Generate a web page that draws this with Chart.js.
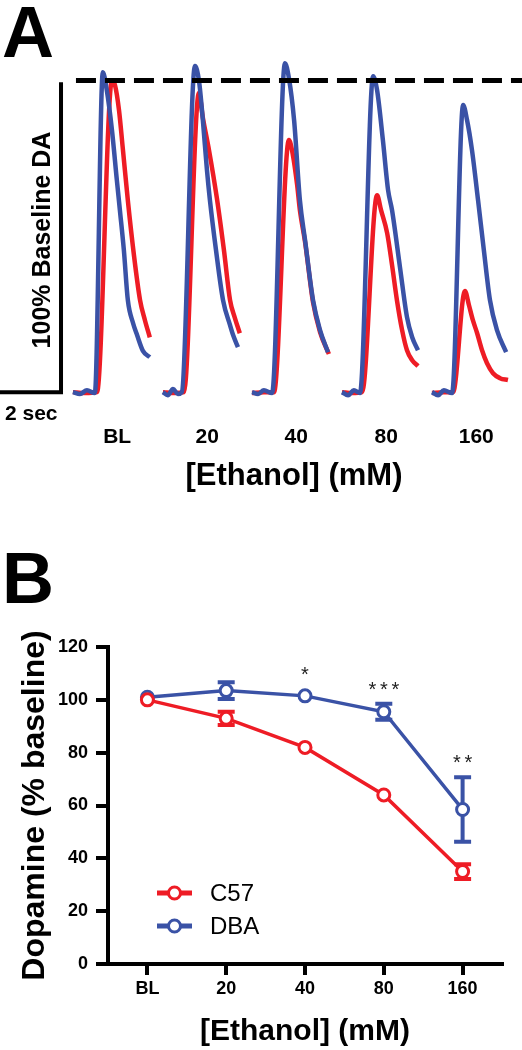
<!DOCTYPE html>
<html>
<head>
<meta charset="utf-8">
<script src="https://cdn.jsdelivr.net/npm/chart.js@4.4.0/dist/chart.umd.min.js"></script>
<style>
  body { margin: 0; background: #fff; }
  #wrap { position: relative; width: 522px; height: 1050px; }
  canvas { position: absolute; left: 0; }
  #traces { top: 0; }
  #summary { top: 500px; }
</style>
</head>
<body>
<div id="wrap">
  <canvas id="traces" width="522" height="500"></canvas>
  <canvas id="summary" width="522" height="550"></canvas>
</div>
<script>
const fam = '"Liberation Sans", Arial, sans-serif';
const RED = "#ee1c25";
const BLUE = "#3a52a6";

// ---------- Panel A: example traces, [time (s), DA (% baseline)] ----------
const traceGroups = ["BL", "20", "40", "80", "160"];
const groupStart = [2.39, 5.34, 8.26, 11.21, 14.16]; // s on the shared time axis

const dbaBL = [[0,0],[0.23,-0.6],[0.46,0.6],[0.72,-0.3],[0.98,103.2],[1.11,97.4],[1.28,84.5],[1.44,68.4],[1.54,58.7],[1.67,45.8],[1.80,29.7],[1.97,22.3],[2.10,18.5],[2.30,13.2],[2.52,11.3]];
const c57BL = [[0,0],[0.39,-0.3],[0.79,0],[1.28,100.6],[1.38,99.0],[1.51,91.0],[1.64,78.1],[1.80,61.9],[2.00,44.2],[2.20,29.7],[2.36,23.2],[2.52,17.7]];
const dba20 = [[0,0],[0.16,-1.0],[0.33,1.0],[0.49,-0.6],[0.62,0],[1.05,105.2],[1.18,100.6],[1.31,87.7],[1.44,72.0],[1.54,62.0],[1.74,45.8],[1.97,29.7],[2.20,21.6],[2.30,18.4],[2.46,14.5]];
const c5720 = [[0,0],[0.39,-0.3],[0.69,0],[1.18,96.5],[1.31,88.5],[1.51,78.1],[1.77,62.5],[2.00,45.8],[2.20,29.7],[2.36,23.9],[2.52,19.0]];
const dba40 = [[0,0],[0.20,-0.6],[0.39,0.6],[0.66,-0.3],[1.08,106.1],[1.21,101.3],[1.38,87.7],[1.57,61.9],[1.74,49.0],[2.00,29.7],[2.23,20.0],[2.49,12.9]];
const c5740 = [[0,-0.3],[0.39,0],[0.72,0],[1.21,81.3],[1.34,76.5],[1.48,66.8],[1.57,58.7],[1.74,48.4],[2.00,29.0],[2.23,19.4],[2.52,12.3]];
const dba80 = [[0,0],[0.20,-1.0],[0.39,0.6],[0.59,-0.3],[1.02,101.9],[1.15,97.4],[1.34,81.3],[1.51,65.2],[1.64,58.7],[1.90,40.3],[2.13,24.2],[2.30,17.7],[2.49,13.5]];
const c5780 = [[0,0],[0.33,-0.3],[0.66,0],[1.15,63.5],[1.28,58.7],[1.48,51.3],[1.64,41.0],[1.80,29.7],[1.97,20.0],[2.13,13.5],[2.30,10.3],[2.49,8.4]];
const dba160 = [[0,0],[0.20,-1.0],[0.39,0.6],[0.66,-0.3],[1.02,92.6],[1.15,87.7],[1.31,78.1],[1.51,61.9],[1.70,45.8],[1.90,29.7],[2.13,20.0],[2.43,12.9]];
const c57160 = [[0,-0.3],[0.36,0],[0.69,0],[1.08,32.6],[1.21,28.1],[1.34,23.2],[1.48,19.0],[1.64,13.5],[1.80,9.4],[2.00,6.1],[2.23,4.5],[2.49,3.9]];

const dbaTraces = [dbaBL, dba20, dba40, dba80, dba160];
const c57Traces = [c57BL, c5720, c5740, c5780, c57160];

// scale bar: 2 sec x 100 %, and the 100 % baseline reference
const scaleBar = [[0,0],[2,0],[2,100]];
const baselineRef = [[2.49,100.5],[17.11,100.5]];

// ---------- Panel B: summary ----------
const doses = ["BL", "20", "40", "80", "160"];
const c57Mean = [100, 93, 82, 64, 35];
const c57Sem = [0, 2.5, 0, 0, 2.8];
const dbaMean = [101, 103.5, 101.5, 95.5, 58.5];
const dbaSem = [0, 3.2, 0, 3, 12.2];
const sigMarks = ["", "", "*", "***", "**"];

// ---------- Chart A ----------
function traceSet(points, start, color, order) {
  return {
    data: points.map(p => ({ x: start + p[0], y: p[1] })),
    borderColor: color,
    borderWidth: 4.5,
    pointRadius: 0,
    fill: false,
    cubicInterpolationMode: "monotone",
    order: order
  };
}

const traceSets = [];
dbaTraces.forEach((t, i) => traceSets.push(traceSet(t, groupStart[i], BLUE, 1)));
c57Traces.forEach((t, i) => traceSets.push(traceSet(t, groupStart[i], RED, 2)));
traceSets.push({
  data: scaleBar.map(p => ({ x: p[0], y: p[1] })),
  borderColor: "#000", borderWidth: 4, pointRadius: 0, tension: 0, borderJoinStyle: "miter", order: 0
});
traceSets.push({
  data: baselineRef.map(p => ({ x: p[0], y: p[1] })),
  borderColor: "#000", borderWidth: 5, borderDash: [20, 9], pointRadius: 0, order: 0
});

const traceExtras = {
  id: "traceExtras",
  afterDraw(chart) {
    const { ctx, scales: { x } } = chart;
    ctx.save();
    ctx.fillStyle = "#000";
    ctx.textBaseline = "alphabetic";
    ctx.textAlign = "left";
    ctx.font = "bold 72px " + fam;
    ctx.fillText("A", 2, 57);
    ctx.font = "bold 21px " + fam;
    ctx.fillText("2 sec", 5, 420);
    ctx.textAlign = "center";
    traceGroups.forEach((g, i) => ctx.fillText(g, x.getPixelForValue(groupStart[i] + 1.45), 443));
    ctx.font = "bold 31px " + fam;
    ctx.fillText("[Ethanol] (mM)", 294, 485);
    ctx.translate(50, 240);
    ctx.rotate(-Math.PI / 2);
    ctx.font = "bold 25px " + fam;
    ctx.fillText("100% Baseline DA", 0, 0);
    ctx.restore();
  }
};

new Chart(document.getElementById("traces").getContext("2d"), {
  type: "line",
  data: { datasets: traceSets },
  options: {
    responsive: false,
    animation: false,
    devicePixelRatio: 1,
    layout: { padding: 0 },
    scales: {
      x: { type: "linear", min: 0, max: 17.11, display: false },
      y: { type: "linear", min: -34.8, max: 126.5, display: false }
    },
    plugins: { legend: { display: false }, tooltip: { enabled: false } }
  },
  plugins: [traceExtras]
});

// ---------- Chart B ----------
const summaryExtras = {
  id: "summaryExtras",
  beforeDatasetsDraw(chart) {
    // error bars (SEM) under the markers
    const { ctx, scales: { y } } = chart;
    chart.data.datasets.forEach((ds, i) => {
      const meta = chart.getDatasetMeta(i);
      ctx.save();
      ctx.strokeStyle = ds.borderColor;
      ctx.lineWidth = 4;
      ds.data.forEach((v, j) => {
        const e = ds.sem[j];
        if (!e) return;
        const px = meta.data[j].x;
        const top = y.getPixelForValue(v + e);
        const bot = y.getPixelForValue(v - e);
        ctx.beginPath();
        ctx.moveTo(px, top); ctx.lineTo(px, bot);
        ctx.moveTo(px - 8.5, top); ctx.lineTo(px + 8.5, top);
        ctx.moveTo(px - 8.5, bot); ctx.lineTo(px + 8.5, bot);
        ctx.stroke();
      });
      ctx.restore();
    });
  },
  afterDatasetsDraw(chart) {
    const { ctx, scales: { y } } = chart;
    ctx.save();
    // significance stars above DBA
    const dbaMeta = chart.getDatasetMeta(1);
    ctx.fillStyle = "#222";
    ctx.font = "20px " + fam;
    ctx.textAlign = "center";
    ctx.textBaseline = "alphabetic";
    sigMarks.forEach((s, j) => {
      if (!s) return;
      const px = dbaMeta.data[j].x;
      const top = Math.min(y.getPixelForValue(dbaMean[j] + dbaSem[j]), y.getPixelForValue(dbaMean[j]) - 7);
      const cy = top - 20;
      const n = s.length;
      for (let k = 0; k < n; k++) {
        ctx.fillText("*", px + (k - (n - 1) / 2) * 11.5, cy + 12);
      }
    });
    // legend
    chart.data.datasets.forEach((ds, i) => {
      const ly = 393 + i * 33;
      ctx.strokeStyle = ds.borderColor;
      ctx.lineWidth = 5;
      ctx.beginPath(); ctx.moveTo(157, ly); ctx.lineTo(192, ly); ctx.stroke();
      ctx.beginPath(); ctx.arc(174.5, ly, 6, 0, Math.PI * 2);
      ctx.fillStyle = "#fff"; ctx.fill();
      ctx.lineWidth = 3; ctx.stroke();
      ctx.fillStyle = "#000";
      ctx.font = "24px " + fam;
      ctx.textAlign = "left";
      ctx.textBaseline = "middle";
      ctx.fillText(ds.label, 210, ly + 1);
    });
    // panel letter
    ctx.fillStyle = "#000";
    ctx.font = "bold 72px " + fam;
    ctx.textAlign = "left";
    ctx.textBaseline = "alphabetic";
    ctx.fillText("B", 2, 103);
    ctx.restore();
  }
};

const tickFont = { family: fam, size: 18, weight: "bold" };

new Chart(document.getElementById("summary").getContext("2d"), {
  type: "line",
  data: {
    labels: doses,
    datasets: [
      {
        label: "C57", data: c57Mean, sem: c57Sem,
        borderColor: RED, borderWidth: 3.5, tension: 0,
        pointRadius: 6, pointBorderWidth: 3, pointBackgroundColor: "#fff", pointBorderColor: RED
      },
      {
        label: "DBA", data: dbaMean, sem: dbaSem,
        borderColor: BLUE, borderWidth: 3.5, tension: 0,
        pointRadius: 6, pointBorderWidth: 3, pointBackgroundColor: "#fff", pointBorderColor: BLUE
      }
    ]
  },
  options: {
    responsive: false,
    animation: false,
    devicePixelRatio: 1,
    layout: { padding: { top: 147, right: 20, bottom: 0, left: 0 } },
    scales: {
      x: {
        type: "category",
        offset: true,
        grid: { drawOnChartArea: false, offset: false, tickLength: 11, lineWidth: 4, color: "#000" },
        border: { width: 4, color: "#000" },
        ticks: { font: tickFont, color: "#000", padding: 3, maxRotation: 0 },
        title: {
          display: true, text: "[Ethanol] (mM)", color: "#000",
          font: { family: fam, size: 30, weight: "bold" }, padding: { top: 0, bottom: 0 }
        },
        afterFit: s => { s.height = 86; }
      },
      y: {
        min: 0, max: 120,
        grid: { drawOnChartArea: false, tickLength: 12, lineWidth: 4, color: "#000" },
        border: { width: 4, color: "#000" },
        ticks: { stepSize: 20, font: tickFont, color: "#000", padding: 8 },
        title: {
          display: true, text: "Dopamine (% baseline)", color: "#000",
          font: { family: fam, size: 32, weight: "bold" }, padding: { top: 16, bottom: 0 }
        },
        afterFit: s => { s.width = 108; }
      }
    },
    plugins: { legend: { display: false }, tooltip: { enabled: false } }
  },
  plugins: [summaryExtras]
});
</script>
</body>
</html>
